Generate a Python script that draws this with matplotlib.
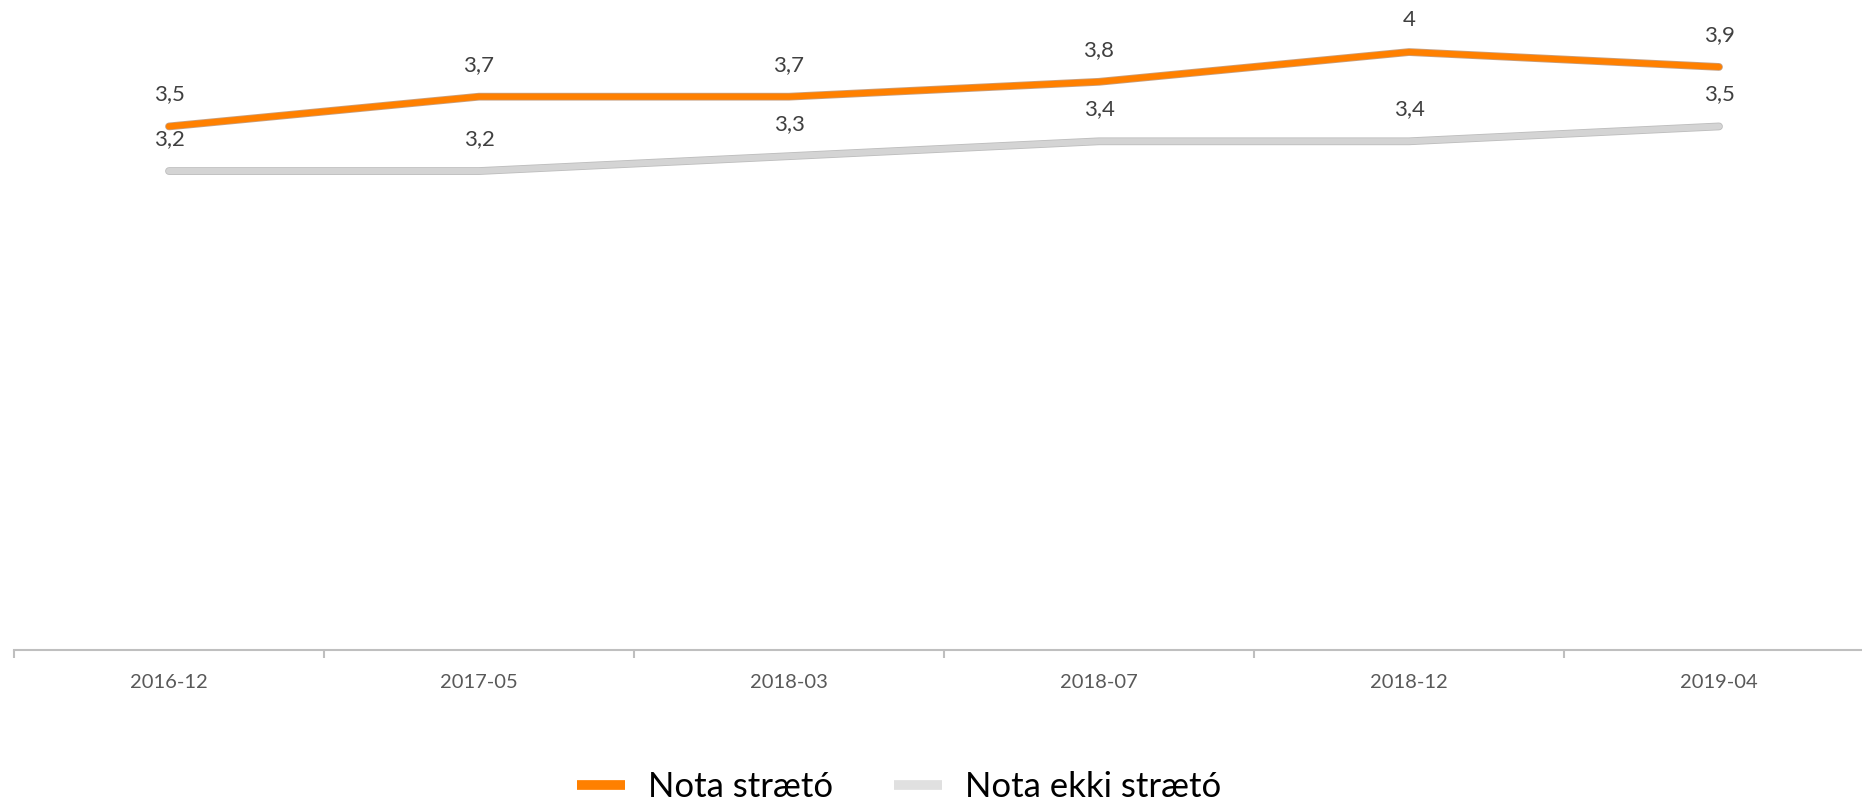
import matplotlib
matplotlib.use("Agg")
import matplotlib.pyplot as plt
import matplotlib.patheffects as pe
from matplotlib.lines import Line2D
import numpy as np

categories = ["2016-12", "2017-05", "2018-03", "2018-07", "2018-12", "2019-04"]
nota_straeto = [3.5, 3.7, 3.7, 3.8, 4.0, 3.9]
nota_ekki_straeto = [3.2, 3.2, 3.3, 3.4, 3.4, 3.5]
series_names = ["Nota strætó", "Nota ekki strætó"]

plt.rcParams['font.family'] = ['Lato', 'DejaVu Sans']

W, H = 1862, 806
fig = plt.figure(figsize=(W / 100, H / 100), dpi=100)
left_px, axis_y_px, step_px = 14, 650, 310
ax = fig.add_axes([left_px / W, (H - axis_y_px) / H, 6 * step_px / W, axis_y_px / H])
ax.set_xlim(-0.5, 5.5)
ax.set_ylim(-0.02, 4.35)

x = np.arange(len(categories))
orange = "#FF8000"
grey = "#D4D4D4"

ax.plot(x, nota_ekki_straeto, color=grey, lw=4.4, solid_capstyle="round", solid_joinstyle="round",
        path_effects=[pe.Stroke(linewidth=5.6, foreground="#BDBDBD"), pe.Normal()], zorder=2)
ax.plot(x, nota_straeto, color=orange, lw=4.4, solid_capstyle="round", solid_joinstyle="round",
        path_effects=[pe.Stroke(linewidth=5.6, foreground="#C8A080"), pe.Normal()], zorder=3)

def fmt(v):
    s = ("%.1f" % v).rstrip("0").rstrip(".")
    return s.replace(".", ",")

for series in (nota_straeto, nota_ekki_straeto):
    for xi, v in zip(x, series):
        ax.annotate(fmt(v), (xi, v), xytext=(0, 23), textcoords="offset points",
                    ha="center", va="center", fontsize=16, color="#404040")

for s in ["top", "right", "left"]:
    ax.spines[s].set_visible(False)
ax.spines["bottom"].set_color("#BFBFBF")
ax.spines["bottom"].set_linewidth(1.5)
ax.set_yticks([])
ax.set_xticks(x)
ax.set_xticklabels(categories, fontsize=14.5, color="#595959")
ax.tick_params(axis="x", which="major", length=0, pad=17)
ax.set_xticks(np.arange(-0.5, 6.0, 1.0), minor=True)
ax.tick_params(axis="x", which="minor", length=6, color="#BFBFBF", width=1.5)

handles = [Line2D([0], [0], color=orange, lw=7, solid_capstyle="butt"),
           Line2D([0], [0], color="#E0E0E0", lw=7, solid_capstyle="butt")]
fig.legend(handles, series_names, loc="center", bbox_to_anchor=(899 / W, 1 - 787 / H),
           ncol=2, frameon=False, fontsize=25, handlelength=1.4, columnspacing=1.75,
           handletextpad=0.65)

fig.savefig("out.png", dpi=100)
